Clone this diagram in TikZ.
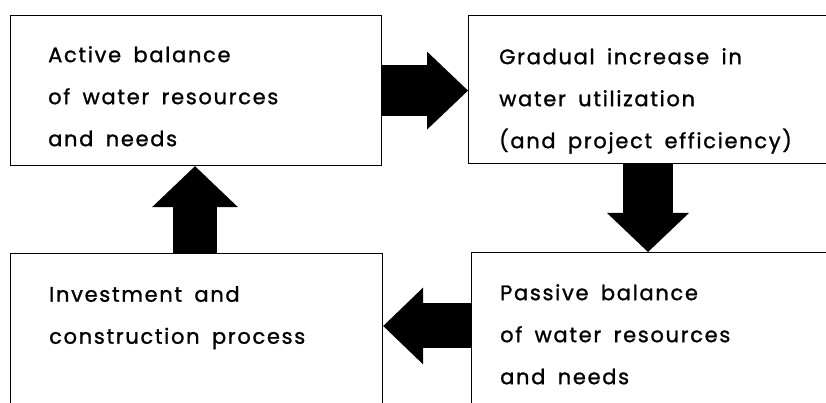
\documentclass[tikz,border=0pt]{standalone}
\usepackage{fontspec}
\newfontfamily\boxfont[LetterSpace=8,WordSpace=1.7,FakeBold=1.2]{Poppins}
\usetikzlibrary{arrows.meta}

\begin{document}
\begin{tikzpicture}[x=1pt,y=1pt,
    box/.style={draw, line width=1.2pt, anchor=north west, inner sep=0pt},
    txt/.style={anchor=north west, align=left, inner sep=0pt,
        font=\boxfont\fontsize{21}{42}\selectfont},
    fat/.style n args={3}{line width=#1,
        -{Triangle[length=#3, width=#2, line width=0pt]}}]
    \useasboundingbox (0,0) rectangle (826,403);
    \clip (0,0) rectangle (826,403);

    \node[box, minimum width=371pt, minimum height=150pt] (act) at (10,388) {};
    \node[box, minimum width=380pt, minimum height=148pt] (grad) at (468,388) {};
    \node[box, minimum width=372pt, minimum height=180pt] (inv) at (10,150) {};
    \node[box, minimum width=380pt, minimum height=180pt] (pass) at (471,151) {};

    \node[txt] (actT) at ([shift={(38pt,-31pt)}]act.north west)
        {Active balance\\of water resources\\and needs};
    \node[txt] (gradT) at ([shift={(31pt,-33pt)}]grad.north west)
        {Gradual increase in\\water utilization\\(and project efficiency)};
    \node[txt] (invT) at ([shift={(39pt,-33pt)}]inv.north west)
        {Investment and\\construction process};
    \node[txt] (passT) at ([shift={(29pt,-32pt)}]pass.north west)
        {Passive balance\\of water resources\\and needs};

    \draw[fat={51pt}{78pt}{41pt}] (act.east) -- (act.east -| grad.west);
    \draw[fat={50pt}{82pt}{39pt}] ([xshift=180pt]grad.south west)
        -- ([xshift=177pt]pass.north west);
    \draw[fat={45pt}{77pt}{40pt}] ([yshift=-74pt]pass.north west)
        -- ([yshift=-73pt]inv.north east);
    \draw[fat={44pt}{86pt}{41pt}] ([xshift=185pt]inv.north west)
        -- ([xshift=185pt]act.south west);
\end{tikzpicture}
\end{document}
